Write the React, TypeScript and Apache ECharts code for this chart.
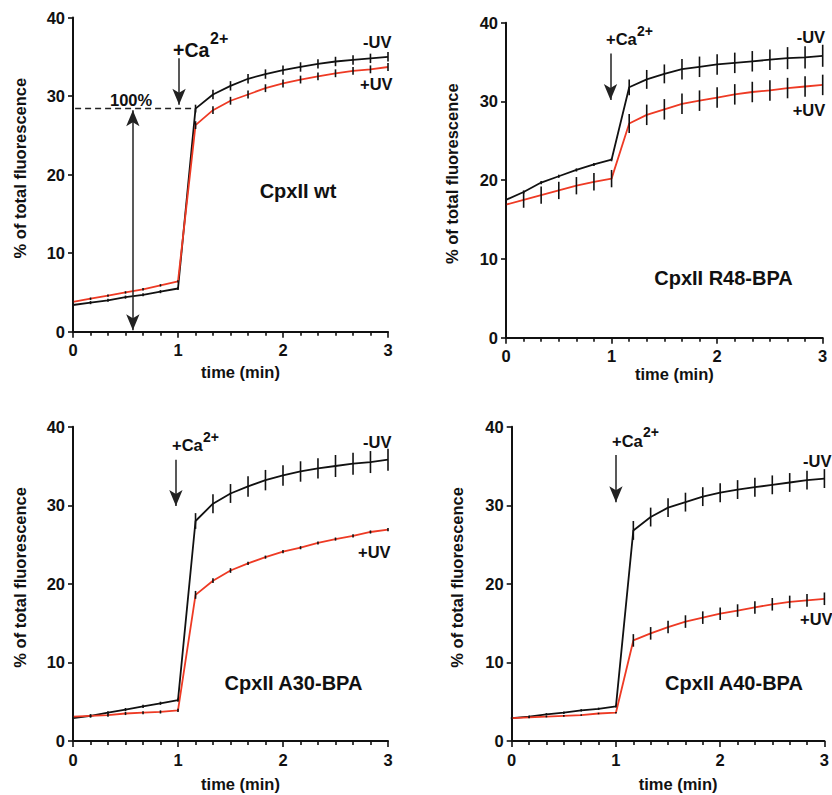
import React, { useEffect, useRef } from 'react';
import * as echarts from 'echarts';

const times = [0, 0.167, 0.333, 0.5, 0.667, 0.833, 1, 1.167, 1.333, 1.5, 1.667, 1.833, 2, 2.167, 2.333, 2.5, 2.667, 2.833, 3];
const xTicks = [0, 1, 2, 3];
const yTicks = [0, 10, 20, 30, 40];

// Panel 1: CpxII wt
const wtMinusUV = [3.4, 3.7, 4.0, 4.4, 4.7, 5.1, 5.5, 28.4, 30.2, 31.3, 32.2, 32.8, 33.3, 33.7, 34.1, 34.4, 34.6, 34.8, 35.0];
const wtMinusUVErr = [0.2, 0.2, 0.2, 0.2, 0.2, 0.2, 0.2, 0.5, 0.6, 0.6, 0.6, 0.6, 0.6, 0.6, 0.6, 0.6, 0.6, 0.6, 0.6];
const wtPlusUV = [3.8, 4.2, 4.6, 5.0, 5.4, 5.9, 6.4, 26.3, 28.2, 29.4, 30.2, 31.0, 31.6, 32.1, 32.5, 32.9, 33.2, 33.4, 33.7];
const wtPlusUVErr = [0.15, 0.15, 0.15, 0.15, 0.15, 0.15, 0.15, 0.5, 0.5, 0.5, 0.5, 0.5, 0.5, 0.5, 0.5, 0.5, 0.5, 0.5, 0.5];

// Panel 2: CpxII R48-BPA
const r48MinusUV = [17.5, 18.5, 19.7, 20.5, 21.3, 22.0, 22.6, 31.8, 32.8, 33.5, 34.1, 34.4, 34.7, 34.9, 35.1, 35.3, 35.5, 35.6, 35.8];
const r48MinusUVErr = [0.2, 0.2, 0.2, 0.2, 0.2, 0.2, 0.2, 1.0, 1.2, 1.2, 1.3, 1.3, 1.3, 1.3, 1.3, 1.3, 1.4, 1.4, 1.4];
const r48PlusUV = [16.9, 17.5, 18.1, 18.7, 19.3, 19.8, 20.2, 27.2, 28.3, 29.0, 29.7, 30.1, 30.5, 30.9, 31.2, 31.4, 31.7, 31.9, 32.1];
const r48PlusUVErr = [0.3, 1.0, 1.1, 1.1, 1.1, 1.1, 1.1, 1.2, 1.3, 1.3, 1.3, 1.3, 1.3, 1.3, 1.3, 1.3, 1.3, 1.3, 1.3];

// Panel 3: CpxII A30-BPA
const a30MinusUV = [2.9, 3.2, 3.6, 4.0, 4.4, 4.8, 5.2, 28.0, 30.2, 31.5, 32.4, 33.2, 33.8, 34.3, 34.7, 35.0, 35.3, 35.5, 35.8];
const a30MinusUVErr = [0.2, 0.2, 0.2, 0.2, 0.2, 0.2, 0.2, 1.0, 1.2, 1.2, 1.3, 1.3, 1.3, 1.3, 1.3, 1.4, 1.4, 1.4, 1.4];
const a30PlusUV = [3.1, 3.2, 3.3, 3.5, 3.6, 3.7, 3.9, 18.6, 20.4, 21.7, 22.6, 23.4, 24.1, 24.6, 25.2, 25.7, 26.1, 26.6, 26.9];
const a30PlusUVErr = [0.2, 0.2, 0.2, 0.2, 0.2, 0.2, 0.2, 0.5, 0.3, 0.3, 0.2, 0.2, 0.2, 0.2, 0.2, 0.2, 0.2, 0.2, 0.2];

// Panel 4: CpxII A40-BPA
const a40MinusUV = [2.9, 3.1, 3.4, 3.6, 3.9, 4.1, 4.4, 26.8, 28.5, 29.7, 30.4, 31.1, 31.6, 32.0, 32.3, 32.6, 32.9, 33.2, 33.4];
const a40MinusUVErr = [0.15, 0.15, 0.15, 0.15, 0.15, 0.15, 0.15, 1.2, 1.2, 1.2, 1.2, 1.2, 1.2, 1.2, 1.2, 1.2, 1.2, 1.2, 1.2];
const a40PlusUV = [2.9, 3.0, 3.1, 3.2, 3.3, 3.5, 3.6, 12.8, 13.7, 14.5, 15.2, 15.7, 16.2, 16.6, 17.0, 17.4, 17.7, 17.9, 18.1];
const a40PlusUVErr = [0.1, 0.1, 0.1, 0.1, 0.1, 0.1, 0.1, 0.8, 0.8, 0.8, 0.8, 0.8, 0.8, 0.8, 0.8, 0.8, 0.8, 0.8, 0.8];

const panelTitles = ['CpxII wt', 'CpxII R48-BPA', 'CpxII A30-BPA', 'CpxII A40-BPA'];
const caArrows = [
  [1.01, 34.8, 28.9],
  [0.99, 36.1, 30.2],
  [0.98, 35.8, 29.9],
  [1.0, 36.4, 30.4],
];

const FONT = '"Liberation Sans", Arial, Helvetica, sans-serif';
const BLACK = '#111111';
const RED = '#ee3a24';

const grids = [
  { left: 73, top: 17.5, width: 315, height: 314.2 },
  { left: 506, top: 22.7, width: 316.7, height: 315 },
  { left: 73, top: 426.7, width: 315, height: 314.3 },
  { left: 511.7, top: 426.7, width: 317, height: 314.3 },
];
const xNameGaps = [32, 27, 34, 34];
const yNameGaps = [45, 46, 45, 46];

const panels = [
  { minus: wtMinusUV, minusErr: wtMinusUVErr, plus: wtPlusUV, plusErr: wtPlusUVErr },
  { minus: r48MinusUV, minusErr: r48MinusUVErr, plus: r48PlusUV, plusErr: r48PlusUVErr },
  { minus: a30MinusUV, minusErr: a30MinusUVErr, plus: a30PlusUV, plusErr: a30PlusUVErr },
  { minus: a40MinusUV, minusErr: a40MinusUVErr, plus: a40PlusUV, plusErr: a40PlusUVErr },
];

function pairs(vals: number[]) {
  return times.map((t, i) => [t, vals[i]]);
}
function errs(vals: number[], e: number[]) {
  return times.map((t, i) => [t, vals[i] - e[i], vals[i] + e[i]]);
}

const errRender = (params: any, api: any) => {
  const x = api.value(0);
  const p1 = api.coord([x, api.value(1)]);
  const p2 = api.coord([x, api.value(2)]);
  return {
    type: 'line',
    shape: { x1: p1[0], y1: p1[1], x2: p2[0], y2: p2[1] },
    style: { stroke: BLACK, lineWidth: 1.6 },
  };
};

function txt(text: string, x: number, y: number, size: number, align = 'left') {
  return {
    type: 'text',
    z: 100,
    style: {
      text,
      x,
      y,
      fill: BLACK,
      font: `bold ${size}px ${FONT}`,
      textAlign: align,
      textVerticalAlign: 'middle',
    },
  };
}

export default function App() {
  const ref = useRef<HTMLDivElement>(null);
  useEffect(() => {
    if (!ref.current) return;
    const chart = echarts.init(ref.current, undefined, { renderer: 'svg' });

    const series: any[] = [];
    panels.forEach((p, i) => {
      const arrow = caArrows[i];
      const markLines: any[] = [
        [
          { coord: [arrow[0], arrow[1]], symbol: 'none' },
          { coord: [arrow[0], arrow[2]], symbol: 'arrow' },
        ],
      ];
      if (i === 0) {
        markLines.push([
          { coord: [0.57, 28.2], symbol: 'arrow' },
          { coord: [0.57, 0.2], symbol: 'arrow' },
        ]);
      }
      series.push({
        type: 'line',
        name: '-UV',
        xAxisIndex: i,
        yAxisIndex: i,
        data: pairs(p.minus),
        showSymbol: false,
        lineStyle: { color: BLACK, width: 1.8 },
        z: 3,
        markLine: {
          silent: true,
          symbolSize: [10, 16],
          label: { show: false },
          lineStyle: { color: '#222', width: 1.5, type: 'solid' },
          data: markLines,
        },
      });
      series.push({
        type: 'line',
        name: '+UV',
        xAxisIndex: i,
        yAxisIndex: i,
        data: pairs(p.plus),
        showSymbol: false,
        lineStyle: { color: RED, width: 1.8 },
        z: 4,
        markLine:
          i === 0
            ? {
                silent: true,
                symbol: 'none',
                label: { show: false },
                lineStyle: { color: '#222', width: 1.3, type: [6, 4] },
                data: [[{ coord: [0.02, 28.4] }, { coord: [1.167, 28.4] }]],
              }
            : undefined,
      });
      series.push({
        type: 'custom',
        xAxisIndex: i,
        yAxisIndex: i,
        data: errs(p.minus, p.minusErr),
        renderItem: errRender,
        encode: { x: 0, y: [1, 2] },
        z: 5,
        silent: true,
      });
      series.push({
        type: 'custom',
        xAxisIndex: i,
        yAxisIndex: i,
        data: errs(p.plus, p.plusErr),
        renderItem: errRender,
        encode: { x: 0, y: [1, 2] },
        z: 5,
        silent: true,
      });
    });

    const axisTextStyle = { fontFamily: FONT, fontWeight: 'bold', fontSize: 16.5, color: BLACK };

    const option: any = {
      animation: false,
      backgroundColor: '#ffffff',
      grid: grids.map((g) => ({ ...g, containLabel: false })),
      xAxis: grids.map((g, i) => ({
        gridIndex: i,
        type: 'value',
        min: xTicks[0],
        max: xTicks[xTicks.length - 1],
        interval: 1,
        name: 'time (min)',
        nameLocation: 'middle',
        nameGap: xNameGaps[i],
        nameTextStyle: { ...axisTextStyle, padding: [0, 0, 0, 20] },
        axisLine: { show: true, lineStyle: { color: BLACK, width: 2 } },
        axisTick: { show: true, length: 6, lineStyle: { color: BLACK, width: 1.6 } },
        minorTick: { show: true, splitNumber: 6, length: 4, lineStyle: { color: BLACK, width: 1.6 } },
        splitLine: { show: false },
        minorSplitLine: { show: false },
        axisLabel: { ...axisTextStyle, margin: 10 },
      })),
      yAxis: grids.map((g, i) => ({
        gridIndex: i,
        type: 'value',
        min: yTicks[0],
        max: yTicks[yTicks.length - 1],
        interval: 10,
        name: '% of total fluorescence',
        nameLocation: 'middle',
        nameGap: yNameGaps[i],
        nameTextStyle: { ...axisTextStyle, padding: [0, 0, 0, 13] },
        axisLine: { show: true, lineStyle: { color: BLACK, width: 2 } },
        axisTick: { show: true, length: 5, lineStyle: { color: BLACK, width: 1.6 } },
        splitLine: { show: false },
        axisLabel: { ...axisTextStyle, margin: 8 },
      })),
      series,
      graphic: [
        // Panel 1
        txt('+Ca', 173, 49.5, 19.5),
        txt('2+', 210, 38, 16),
        txt('-UV', 363, 41.5, 16.5),
        txt('+UV', 360, 83.5, 16.5),
        txt('100%', 110, 100, 16.5),
        txt(panelTitles[0], 298, 191, 20, 'center'),
        // Panel 2
        txt('+Ca', 606, 39, 16.5),
        txt('2+', 637, 31, 14),
        txt('-UV', 796.7, 36.5, 16.5),
        txt('+UV', 792.7, 109.5, 16.5),
        txt(panelTitles[1], 723.5, 278, 20, 'center'),
        // Panel 3
        txt('+Ca', 172, 444.5, 16.5),
        txt('2+', 203, 436.5, 14),
        txt('-UV', 363, 442, 16.5),
        txt('+UV', 358, 551.5, 16.5),
        txt(panelTitles[2], 293.5, 683, 20, 'center'),
        // Panel 4
        txt('+Ca', 612, 441, 16.5),
        txt('2+', 643, 432, 14),
        txt('-UV', 803, 460.5, 16.5),
        txt('+UV', 800, 619, 16.5),
        txt(panelTitles[3], 734, 683, 20, 'center'),
      ],
    };
    chart.setOption(option);
    return () => chart.dispose();
  }, []);

  return (
    <div
      ref={ref}
      style={{ position: 'fixed', left: 0, top: 0, width: 832, height: 795, background: '#fff' }}
    />
  );
}
